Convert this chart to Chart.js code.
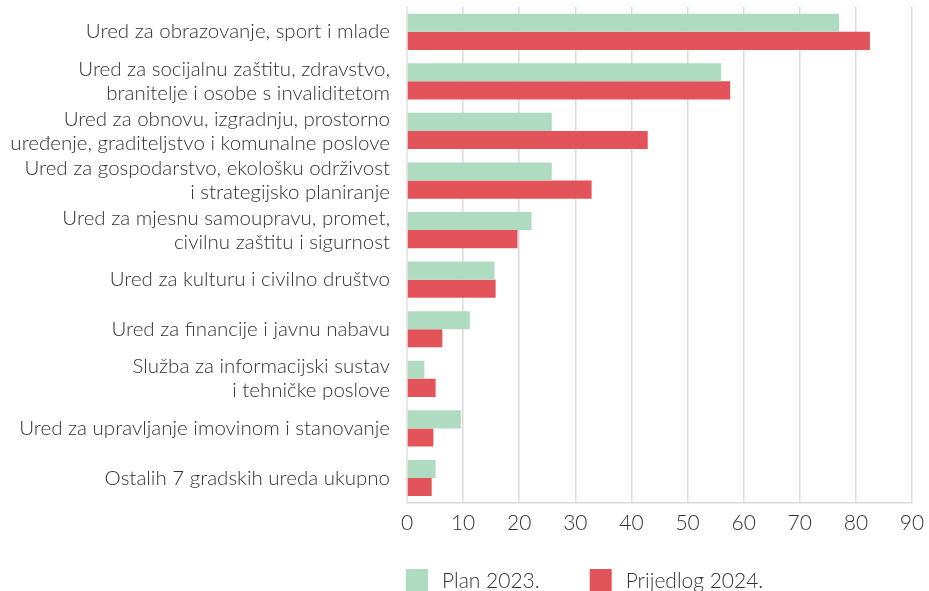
<!DOCTYPE html>
<html lang="hr">
<head>
  <meta charset="UTF-8">
  <title>Uredi - Plan 2023. i Prijedlog 2024.</title>
  <script src="https://cdn.jsdelivr.net/npm/chart.js"></script>
  <style>
    body { margin: 0; background: #fff; }
    .chart-box { width: 929px; height: 591px; }
  </style>
</head>
<body>
  <div class="chart-box"><canvas id="chart"></canvas></div>
  <script>
    const categories = [
      "Ured za obrazovanje, sport i mlade",
      ["Ured za socijalnu zaštitu, zdravstvo,", "branitelje i osobe s invaliditetom"],
      ["Ured za obnovu, izgradnju, prostorno", "uređenje, graditeljstvo i komunalne poslove"],
      ["Ured za gospodarstvo, ekološku održivost", "i strategijsko planiranje"],
      ["Ured za mjesnu samoupravu, promet,", "civilnu zaštitu i sigurnost"],
      "Ured za kulturu i civilno društvo",
      "Ured za financije i javnu nabavu",
      ["Služba za informacijski sustav", "i tehničke poslove"],
      "Ured za upravljanje imovinom i stanovanje",
      "Ostalih 7 gradskih ureda ukupno"
    ];
    const plan2023 = [77.0, 56.0, 25.8, 25.8, 22.2, 15.6, 11.2, 3.1, 9.6, 5.1];
    const prijedlog2024 = [82.5, 57.6, 42.9, 32.9, 19.7, 15.8, 6.3, 5.1, 4.7, 4.4];
    const xTicks = [0, 10, 20, 30, 40, 50, 60, 70, 80, 90];

    const fontFamily = "Lato, 'Open Sans', sans-serif";
    const textColor = "#333333";

    // legenda crtana ispod osi, poravnata s lijevim rubom grafa
    const bottomLegend = {
      id: "bottomLegend",
      afterDraw(chart) {
        const c = chart.ctx;
        const area = chart.chartArea;
        let x = area.left - 1;
        const top = 569, size = 22;
        c.save();
        c.font = `300 21px ${fontFamily}`;
        c.textBaseline = "middle";
        chart.data.datasets.forEach(ds => {
          c.fillStyle = ds.backgroundColor;
          c.fillRect(x, top, size, size);
          c.fillStyle = textColor;
          c.fillText(ds.label, x + size + 14, top + size / 2 + 1);
          x += size + 14 + c.measureText(ds.label).width + 50;
        });
        c.restore();
      }
    };

    const ctx = document.getElementById("chart").getContext("2d");
    new Chart(ctx, {
      type: "bar",
      data: {
        labels: categories,
        datasets: [
          { label: "Plan 2023.", data: plan2023, backgroundColor: "#afdbc1", borderWidth: 0 },
          { label: "Prijedlog 2024.", data: prijedlog2024, backgroundColor: "#e3545a", borderWidth: 0 }
        ]
      },
      plugins: [bottomLegend],
      options: {
        indexAxis: "y",
        responsive: true,
        maintainAspectRatio: false,
        animation: false,
        layout: { padding: { top: 7, right: 17, left: 0, bottom: 47 } },
        datasets: { bar: { categoryPercentage: 0.73, barPercentage: 1.0 } },
        plugins: {
          tooltip: { enabled: false },
          legend: { display: false }
        },
        scales: {
          x: {
            min: 0,
            max: 90,
            afterBuildTicks: axis => { axis.ticks = xTicks.map(v => ({ value: v })); },
            afterFit: axis => {
              axis.paddingLeft = 0;
              axis.paddingRight = 0;
            },
            grid: { color: "#dadada", lineWidth: 1.5, drawTicks: false },
            border: { color: "#dadada", width: 1.5 },
            ticks: {
              color: textColor,
              font: { family: fontFamily, size: 21, weight: 300 },
              padding: 8
            }
          },
          y: {
            afterFit: axis => {
              axis.width = 407;
              axis.paddingTop = 0;
              axis.paddingBottom = 0;
            },
            grid: { display: false, drawTicks: false },
            border: { color: "#e6e6e6", width: 1.5 },
            ticks: {
              autoSkip: false,
              color: textColor,
              font: { family: fontFamily, size: 20.5, weight: 300, lineHeight: 1.17 },
              padding: 17
            }
          }
        }
      }
    });
  </script>
</body>
</html>
